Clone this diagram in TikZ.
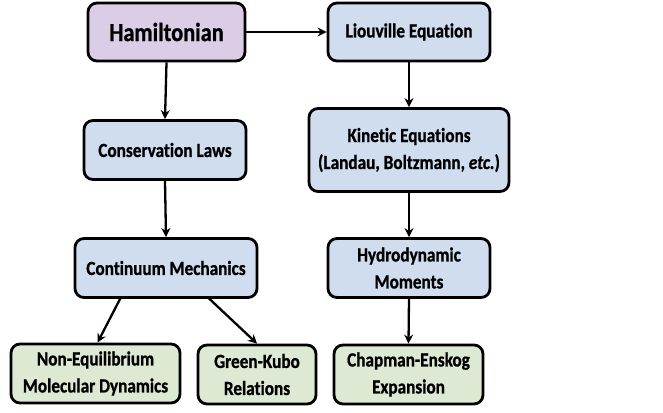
\documentclass[tikz,border=0pt]{standalone}
\usepackage{fontspec}
\setmainfont{Carlito}[FakeStretch=0.86, Ligatures=NoCommon, BoldFeatures={FakeBold=0.9}, BoldItalicFeatures={FakeBold=0.9}]
\usetikzlibrary{arrows.meta}
\definecolor{purp}{RGB}{220,205,230}
\definecolor{blu}{RGB}{208,221,239}
\definecolor{grn}{RGB}{221,233,210}
\tikzset{
  box/.style={draw=black, line width=2.8pt, rounded corners=9pt, align=center, font=\bfseries\fontsize{20}{27}\selectfont, inner sep=0pt},
  pbox/.style={box, fill=purp, font=\bfseries\fontsize{26}{30}\selectfont},
  bbox/.style={box, fill=blu},
  gbox/.style={box, fill=grn},
  arr/.style={line width=2.3pt, -{Stealth[length=9pt,width=9pt]}}
}
\begin{document}
\begin{tikzpicture}[x=1pt,y=-1pt]
\useasboundingbox (0,0) rectangle (663,412);
\node[pbox, minimum width=157pt, minimum height=58pt] (ham) at (166.5,32) {Hamiltonian};
\node[bbox, minimum width=162pt, minimum height=58pt] (liou) at (409,32) {Liouville Equation};
\node[bbox, minimum width=162pt, minimum height=59pt] (cons) at (165,150) {Conservation Laws};
\node[bbox, minimum width=200pt, minimum height=83pt] (kin) at (409,150) {Kinetic Equations\\(Landau, Boltzmann, \textit{etc.})};
\node[bbox, minimum width=182pt, minimum height=59pt] (cont) at (166,268) {Continuum Mechanics};
\node[bbox, minimum width=162pt, minimum height=59pt] (hyd) at (409,268) {Hydrodynamic\\Moments};
\node[gbox, minimum width=169pt, minimum height=59pt] (neq) at (95.5,373.5) {Non-Equilibrium\\Molecular Dynamics};
\node[gbox, minimum width=118pt, minimum height=59pt] (gk) at (257,374.5) {Green-Kubo\\Relations};
\node[gbox, minimum width=149pt, minimum height=59pt] (ce) at (408.5,374.5) {Chapman-Enskog\\Expansion};
\path (cont.south west) ++(47pt,1pt) coordinate (c1);
\path (cont.south east) ++(-50pt,1pt) coordinate (c2);
\draw[arr] (ham.east) -- (liou.west);
\draw[arr] (ham.south) -- (cons.north);
\draw[arr] (cons.south) -- (cont.north);
\draw[arr] (c1) -- ([xshift=2pt]neq.north);
\draw[arr] (c2) -- (gk.north);
\draw[arr] (liou.south) -- (kin.north);
\draw[arr] (kin.south) -- (hyd.north);
\draw[arr] (hyd.south) -- (ce.north);
\end{tikzpicture}
\end{document}
